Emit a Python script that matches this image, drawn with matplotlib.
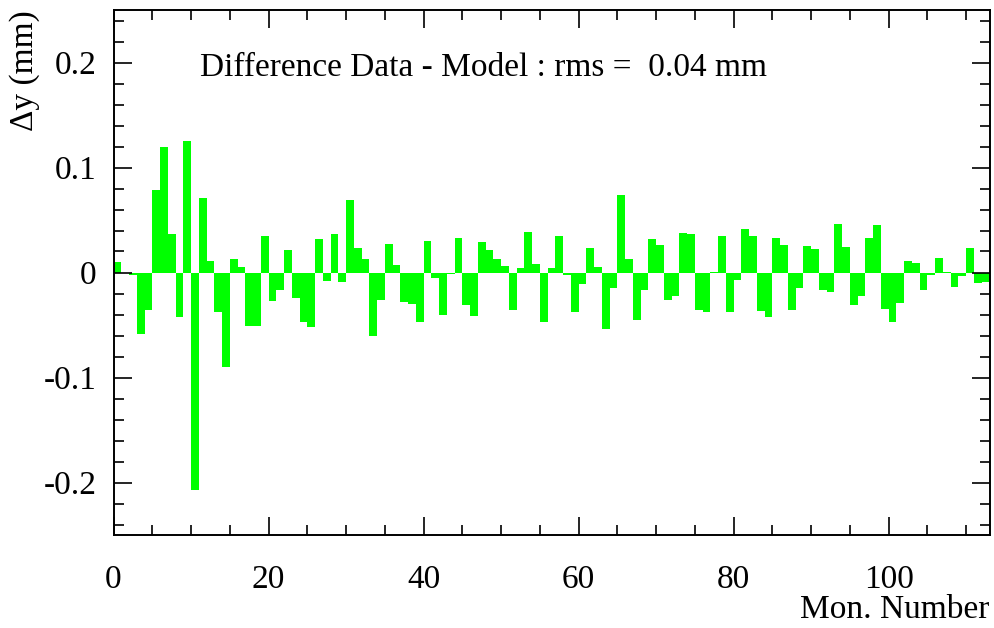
import matplotlib
matplotlib.use('Agg')
import matplotlib.pyplot as plt
import numpy as np
from matplotlib.ticker import MultipleLocator

plt.rcParams['font.family'] = ['Liberation Serif', 'DejaVu Serif']

# difference data - model per monitor (mm)
mon_number = np.arange(113)
delta_y = [
    0.010, 0.0, -0.002, -0.059, -0.036, 0.079, 0.120, 0.037, -0.042, 0.125,
    -0.207, 0.071, 0.011, -0.038, -0.090, 0.013, 0.005, -0.051, -0.051, 0.035,
    -0.027, -0.0165, 0.0215, -0.024, -0.047, -0.052, 0.032, -0.008, 0.037, -0.009,
    0.069, 0.023, 0.013, -0.060, -0.026, 0.027, 0.007, -0.028, -0.030, -0.047,
    0.030, -0.005, -0.040, -0.001, 0.033, -0.031, -0.041, 0.029, 0.021, 0.013,
    0.006, -0.036, 0.004, 0.039, 0.008, -0.047, 0.004, 0.035, -0.002, -0.038,
    -0.011, 0.023, 0.005, -0.054, -0.015, 0.074, 0.013, -0.045, -0.017, 0.032,
    0.026, -0.026, -0.022, 0.038, 0.037, -0.036, -0.038, 0.0005, 0.035, -0.038,
    -0.007, 0.041, 0.035, -0.037, -0.042, 0.033, 0.026, -0.036, -0.015, 0.025,
    0.022, -0.017, -0.019, 0.046, 0.024, -0.031, -0.022, 0.033, 0.045, -0.035,
    -0.047, -0.029, 0.011, 0.009, -0.017, -0.002, 0.014, 0.0003, -0.014, -0.003,
    0.023, -0.010, -0.009,
]
rms_text = 'Difference Data - Model : rms =  0.04 mm'

W, H = 994, 628
fig = plt.figure(figsize=(W / 100, H / 100), dpi=100)
ax = fig.add_axes([113.5 / W, 1 - 535 / H, (989.5 - 113.5) / W, (535 - 10) / H])

ax.bar(mon_number, delta_y, width=1.0, align='edge', color='#00ff00',
       edgecolor='none', linewidth=0)

ax.set_xlim(0, 113)
ax.set_ylim(-0.25, 0.25)

ax.xaxis.set_major_locator(MultipleLocator(20))
ax.xaxis.set_minor_locator(MultipleLocator(5))
ax.yaxis.set_major_locator(MultipleLocator(0.1))
ax.yaxis.set_minor_locator(MultipleLocator(0.02))
ax.yaxis.set_major_formatter(plt.FuncFormatter(lambda v, p: '0' if abs(v) < 1e-9 else f'{v:g}'))

ax.tick_params(which='both', direction='in', top=True, right=True, width=1.2,
               labelsize=24, colors='black')
ax.tick_params(which='major', length=13)
ax.tick_params(which='minor', length=7)
ax.tick_params(axis='x', which='major', pad=21)
ax.tick_params(axis='y', which='major', pad=12)
for s in ax.spines.values():
    s.set_linewidth(1.4)

ax.text(11.2, 0.187, rms_text, fontsize=24, va='baseline', ha='left')

fig.text(25 / W, 1 - 10 / H, 'Δy (mm)', rotation=90, fontsize=24,
         ha='center', va='top')
fig.text(989 / W, 1 - 618 / H, 'Mon. Number', fontsize=24,
         ha='right', va='baseline')

fig.savefig('out.png', dpi=100)
